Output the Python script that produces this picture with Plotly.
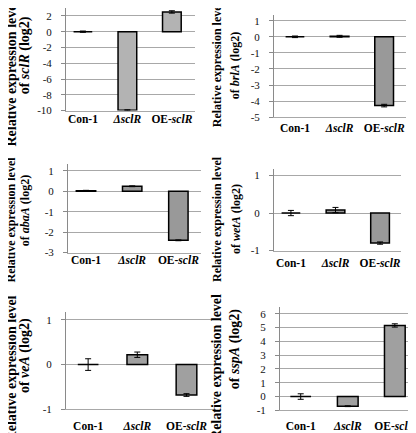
import plotly.graph_objects as go

W, H = 416, 433
FONT = "Times New Roman, Liberation Serif, serif"

categories = ["Con-1", "ΔsclR", "OE-sclR"]
category_labels = ["<b>Con-1</b>", "<b><i>ΔsclR</i></b>", "<b>OE-<i>sclR</i></b>"]

genes = ["sclR", "brlA", "abaA", "wetA", "veA", "sspA"]

sclR_vals = [0.0, -9.95, 2.5]
sclR_err = [0.08, 0.05, 0.15]
brlA_vals = [0.0, 0.03, -4.28]
brlA_err = [0.05, 0.06, 0.08]
abaA_vals = [0.03, 0.25, -2.4]
abaA_err = [0.02, 0.02, 0.02]
wetA_vals = [0.0, 0.08, -0.8]
wetA_err = [0.07, 0.07, 0.03]
veA_vals = [0.0, 0.22, -0.68]
veA_err = [0.13, 0.06, 0.03]
sspA_vals = [0.0, -0.7, 5.15]
sspA_err = [0.2, 0.03, 0.12]

sclR_ticks = [-10, -8, -6, -4, -2, 0, 2]
brlA_ticks = [-5, -4, -3, -2, -1, 0, 1]
abaA_ticks = [-3, -2, -1, 0, 1]
wetA_ticks = [-1, 0, 1]
veA_ticks = [-1, 0, 1]
sspA_ticks = [-1, 0, 1, 2, 3, 4, 5, 6]

values = [sclR_vals, brlA_vals, abaA_vals, wetA_vals, veA_vals, sspA_vals]
errors = [sclR_err, brlA_err, abaA_err, wetA_err, veA_err, sspA_err]
ticks = [sclR_ticks, brlA_ticks, abaA_ticks, wetA_ticks, veA_ticks, sspA_ticks]

panels = [
    dict(px=(58, 187), py=(0, 104), yr=[-10, 3], xr=[-0.38, 2.52], color="#b3b3b3",
         ts=14, lt=(3.5, 67), st=(17, 48), so=-2, bw=0.42),
    dict(px=(266, 398), py=(7.2, 110.7), yr=[-5, 1.35], xr=[-0.47, 2.49], color="#999999",
         ts=12, lt=(209, 57), st=(227, 58), so=0, bw=0.42),
    dict(px=(60, 193), py=(158, 248), yr=[-3, 1.35], xr=[-0.39, 2.49], color="#999999",
         ts=12, lt=(3.5, 215), st=(17, 206), so=-3, bw=0.42),
    dict(px=(266, 393), py=(163, 246), yr=[-1, 1.18], xr=[-0.38, 2.47], color="#999999",
         ts=12, lt=(209, 214), st=(228, 214), so=2, bw=0.42),
    dict(px=(58, 208), py=(308, 407), yr=[-1, 1.18], xr=[-0.45, 2.6], color="#a0a0a0",
         ts=14, lt=(3.5, 366), st=(17, 353), so=6, bw=0.42),
    dict(px=(272, 416), py=(303, 408), yr=[-1, 6.5], xr=[-0.44, 2.62], color="#a0a0a0",
         ts=14, lt=(209, 364), st=(227, 346), so=5, bw=0.44),
]

fig = go.Figure()
annotations = []
GRID = "#a8a8a8"
AXIS = "#8a8a8a"

for i, (gene, vals, errs, tk, p) in enumerate(zip(genes, values, errors, ticks, panels)):
    n = "" if i == 0 else str(i + 1)
    fig.add_trace(go.Bar(
        x=list(range(len(categories))), y=vals,
        width=p["bw"],
        marker=dict(color=p["color"], line=dict(color="black", width=1.5)),
        error_y=dict(type="data", array=errs, color="black", thickness=1, width=3),
        xaxis="x" + n, yaxis="y" + n, showlegend=False,
    ))
    xd = [p["px"][0] / W, p["px"][1] / W]
    yd = [1 - p["py"][1] / H, 1 - p["py"][0] / H]
    fig.layout["xaxis" + n] = dict(
        domain=xd, anchor="y" + n, range=p["xr"],
        tickvals=list(range(len(categories))), ticktext=category_labels,
        showgrid=False, zeroline=False, showline=True, linecolor=GRID, linewidth=1,
        ticks="", ticklabelstandoff=p["so"],
        tickfont=dict(family=FONT, size=11.5, color="black"),
    )
    fig.layout["yaxis" + n] = dict(
        domain=yd, anchor="x" + n, range=p["yr"],
        tickvals=tk, ticktext=[str(t) for t in tk],
        showgrid=True, gridcolor=GRID, gridwidth=1,
        zeroline=True, zerolinecolor=GRID, zerolinewidth=1,
        showline=True, linecolor=AXIS, linewidth=1,
        ticks="outside", ticklen=4, tickcolor=AXIS,
        ticklabelstandoff=7,
        tickfont=dict(family=FONT, size=11, color="#111"),
    )
    annotations.append(dict(
        text="<b>Relative expression level</b>", textangle=-90,
        x=p["lt"][0] / W, y=1 - p["lt"][1] / H, xref="paper", yref="paper",
        xanchor="center", yanchor="middle", showarrow=False,
        font=dict(family=FONT, size=p["ts"], color="black"),
    ))
    annotations.append(dict(
        text="<b>of <i>" + gene + "</i> (log2)</b>", textangle=-90,
        x=p["st"][0] / W, y=1 - p["st"][1] / H, xref="paper", yref="paper",
        xanchor="center", yanchor="middle", showarrow=False,
        font=dict(family=FONT, size=p["ts"], color="black"),
    ))

fig.update_layout(
    width=W, height=H, autosize=False,
    margin=dict(l=0, r=0, t=0, b=0),
    paper_bgcolor="white", plot_bgcolor="white",
    annotations=annotations, bargap=0.6,
)

fig.write_html("out.html")
